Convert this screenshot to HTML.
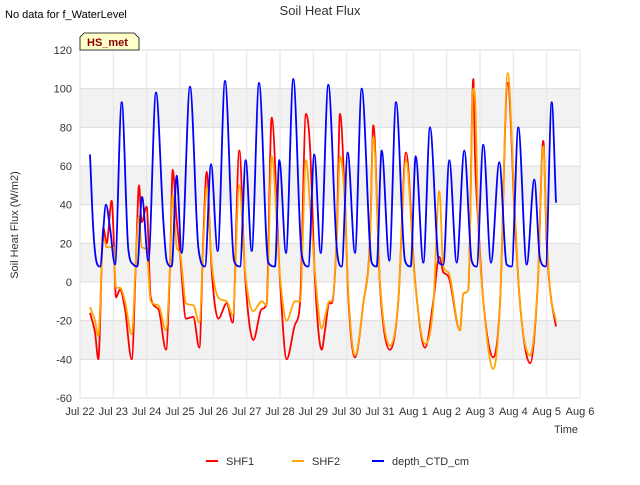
<!DOCTYPE html>
<html><head><meta charset="utf-8"><style>
body{margin:0;background:#fff;font-family:"Liberation Sans",sans-serif}
svg text{font-family:"Liberation Sans",sans-serif}
</style></head><body>
<svg id="chart" width="640" height="480" xmlns="http://www.w3.org/2000/svg">
<text x="5" y="18" font-size="11" fill="#000">No data for f_WaterLevel</text>
<text x="320" y="15" font-size="13" fill="#333" text-anchor="middle">Soil Heat Flux</text>
<g id="plot"></g>
<g>
<path d="M80,50 L80,37 L84,33 L134,33 L139,38 L139,50 Z" fill="#ffffcc" stroke="#000" stroke-width="0.8"/>
<text x="87" y="46" font-size="11" font-weight="bold" fill="#8b0000">HS_met</text>
</g>
<text transform="translate(18,225) rotate(-90)" font-size="11" fill="#333" text-anchor="middle">Soil Heat Flux (W/m2)</text>
<text x="578" y="433" font-size="11" fill="#333" text-anchor="end">Time</text>
<g>
<g><line x1="206" y1="461" x2="218" y2="461" stroke="#ff0000" stroke-width="2"/><text x="226" y="465" font-size="11" fill="#333">SHF1</text></g>
<g><line x1="292" y1="461" x2="304" y2="461" stroke="#ffa500" stroke-width="2"/><text x="312" y="465" font-size="11" fill="#333">SHF2</text></g>
<g><line x1="372" y1="461" x2="384" y2="461" stroke="#0000ff" stroke-width="2"/><text x="392" y="465" font-size="11" fill="#333">depth_CTD_cm</text></g>
</g>
</svg>
<script>
const xTickLabels=["Jul 22","Jul 23","Jul 24","Jul 25","Jul 26","Jul 27","Jul 28","Jul 29","Jul 30","Jul 31","Aug 1","Aug 2","Aug 3","Aug 4","Aug 5","Aug 6"];
const yTicks=[-60,-40,-20,0,20,40,60,80,100,120];
const blueT=[0.30,0.40,0.50,0.60,0.78,0.90,1.05,1.25,1.45,1.60,1.72,1.86,2.05,2.28,2.5,2.6,2.75,2.9,3.05,3.3,3.55,3.75,3.93,4.13,4.35,4.62,4.8,4.97,5.15,5.37,5.65,5.85,5.98,6.18,6.4,6.65,6.85,7.03,7.22,7.45,7.7,7.85,8.03,8.25,8.45,8.75,8.9,9.05,9.28,9.48,9.75,9.92,10.07,10.3,10.5,10.77,10.9,11.08,11.3,11.53,11.75,11.9,12.1,12.33,12.58,12.8,12.95,13.15,13.4,13.63,13.8,13.97,14.15,14.28];
const blueV=[66,27,10,8,40,28,9,93,17,9,8,44,11,98,32,11,8,55,15,101,18,8,61,16,104,11,8,63,16,103,10,8,63,15,105,14,8,66,15,102,18,8,67,15,100,10,8,68,11,93,11,8,65,10,80,10,9,63,10,68,11,8,71,10,62,9,8,80,9,53,12,8,93,41];
const shfT=[0.3,0.45,0.55,0.7,0.8,0.95,1.0,1.08,1.2,1.35,1.55,1.7,1.77,1.85,2.0,2.12,2.35,2.58,2.7,2.78,2.9,3.0,3.18,3.4,3.58,3.7,3.8,3.95,4.15,4.4,4.58,4.78,4.95,5.2,5.45,5.6,5.75,6.0,6.2,6.45,6.6,6.78,6.9,7.05,7.25,7.35,7.48,7.55,7.7,7.8,7.95,8.05,8.25,8.5,8.7,8.8,9.0,9.3,9.55,9.78,10.05,10.35,10.6,10.78,10.9,11.05,11.4,11.5,11.65,11.8,11.85,11.95,12.1,12.4,12.6,12.83,13.05,13.2,13.5,13.73,13.9,14.0,14.1,14.28];
const shf1V=[-16,-26,-40,28,20,42,28,-8,-4,-14,-40,23,50,31,39,-8,-14,-35,8,58,32,15,-19,-18,-34,23,57,6,-19,-11,-21,68,4,-30,-14,-11,85,1,-40,-22,-11,87,70,1,-35,-25,-11,-11,23,87,41,-8,-39,-11,22,81,-2,-35,-10,67,1,-34,-10,13,5,3,-25,-6,-4,105,65,30,-10,-39,-11,103,31,-11,-42,-2,73,20,-4,-23];
const shf2V=[-13,-20,-28,23,18,18,18,-3,-3,-10,-27,20,34,18,17,-10,-12,-25,8,45,18,15,-11,-12,-21,20,49,10,-8,-10,-17,50,6,-15,-10,-12,65,3,-20,-10,-10,63,40,5,-24,-18,-10,-10,20,65,40,-5,-38,-11,20,75,0,-33,-10,63,0,-32,-12,47,8,5,-25,-6,-4,100,96,30,-10,-45,-11,108,35,-11,-38,-2,70,25,-4,-20];
const NS="http://www.w3.org/2000/svg";
const L=80,R=580,T=50,B=398,ymin=-60,ymax=120,xmax=15;
const xs=t=>L+t*(R-L)/xmax;
const ys=v=>B-(v-ymin)*(B-T)/(ymax-ymin);
const plot=document.getElementById('plot');
function mk(tag,attrs){const e=document.createElementNS(NS,tag);for(const k in attrs)e.setAttribute(k,attrs[k]);return e;}
plot.appendChild(mk('rect',{x:L,y:T,width:R-L,height:B-T,fill:'#fff',stroke:'#ccc'}));
for(let v=-40;v<120;v+=40){
  const r=mk('rect',{x:L,y:ys(v+20),width:R-L,height:ys(v)-ys(v+20),fill:'#f2f2f2'});
  
  
  plot.appendChild(r);
}
yTicks.forEach(v=>{
  const g=mk('line',{x1:L,x2:R,y1:ys(v),y2:ys(v),stroke:'#dcdcdc'});
  
  
  plot.appendChild(g);
  const t=mk('text',{x:L-8,y:ys(v)+4,'font-size':11,fill:'#333','text-anchor':'end'});
  t.textContent=v;
  
  
  plot.appendChild(t);
});
xTickLabels.forEach((s,i)=>{
  const g=mk('line',{x1:xs(i),x2:xs(i),y1:T,y2:B,stroke:'#e6e6e6'});
  
  
  plot.appendChild(g);
  const t=mk('text',{x:xs(i),y:B+17,'font-size':11,fill:'#333','text-anchor':'middle'});
  t.textContent=s;
  
  
  plot.appendChild(t);
});
function monotonePath(px,py){
  const n=px.length;const d=[],m=new Array(n);
  for(let i=0;i<n-1;i++)d.push((py[i+1]-py[i])/(px[i+1]-px[i]));
  m[0]=d[0];m[n-1]=d[n-2];
  for(let i=1;i<n-1;i++){m[i]=(d[i-1]*d[i]<=0)?0:(d[i-1]+d[i])/2;}
  for(let i=0;i<n-1;i++){
    if(d[i]===0){m[i]=0;m[i+1]=0;continue;}
    const a=m[i]/d[i],b=m[i+1]/d[i],s=a*a+b*b;
    if(s>9){const t=3/Math.sqrt(s);m[i]=t*a*d[i];m[i+1]=t*b*d[i];}
  }
  let p='M'+px[0].toFixed(1)+','+py[0].toFixed(1);
  for(let i=0;i<n-1;i++){
    const h=(px[i+1]-px[i])/3;
    p+=' C'+(px[i]+h).toFixed(1)+','+(py[i]+m[i]*h).toFixed(1)+' '+(px[i+1]-h).toFixed(1)+','+(py[i+1]-m[i+1]*h).toFixed(1)+' '+px[i+1].toFixed(1)+','+py[i+1].toFixed(1);
  }
  return p;
}
function line(T_,V,color,name){
  const d=monotonePath(T_.map(xs),V.map(ys));
  const p=mk('path',{d:d,fill:'none',stroke:color,'stroke-width':1.8,'stroke-linejoin':'round'});
  
  
  plot.appendChild(p);
}
line(shfT,shf1V,'#ff0000','shf1-line');
line(shfT,shf2V,'#ffa500','shf2-line');
line(blueT,blueV,'#0000ff','depth-ctd-line');
</script>
</body></html>
